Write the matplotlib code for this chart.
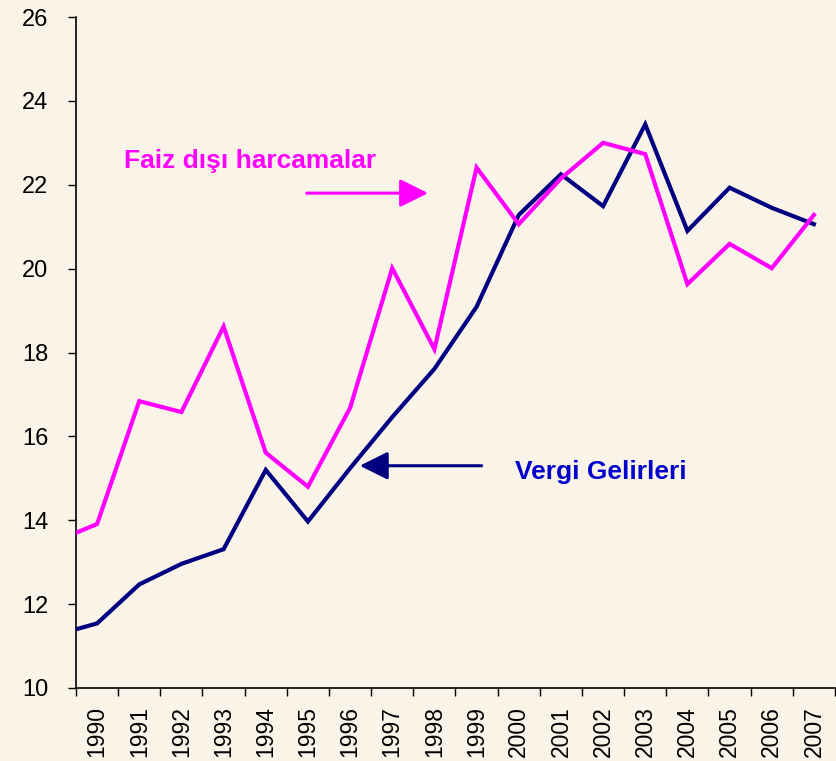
import matplotlib
matplotlib.use("Agg")
import matplotlib.pyplot as plt
from matplotlib.ticker import FixedLocator

# 1989 is only partly visible (clipped at the left edge of the chart)
years = list(range(1989, 2008))
faiz_disi = [13.49, 13.91, 16.84, 16.58, 18.62, 15.61, 14.80, 16.68, 20.01, 18.08,
             22.41, 21.06, 22.15, 23.00, 22.73, 19.63, 20.59, 20.01, 21.28]
vergi = [11.26, 11.54, 12.47, 12.96, 13.31, 15.20, 13.97, 15.24, 16.46, 17.61,
         19.09, 21.28, 22.25, 21.49, 23.44, 20.90, 21.93, 21.45, 21.06]
shown_years = [str(y) for y in range(1990, 2008)]

bg = "#FAF3E8"
plt.rcParams['font.family'] = ['Liberation Sans', 'DejaVu Sans']

fig = plt.figure(figsize=(8.37, 7.61), dpi=100, facecolor=bg)
ax = fig.add_axes([76 / 837, 73 / 761, 759 / 837, 671 / 761])
ax.set_facecolor(bg)

x = [y - 1990 for y in years]
ax.plot(x, vergi, color="#000080", lw=3, solid_joinstyle="miter", zorder=3)
ax.plot(x, faiz_disi, color="#FF00FF", lw=3, solid_joinstyle="miter", zorder=4)

ax.set_xlim(-0.5, len(shown_years) - 0.5)
ax.set_ylim(10, 26)
ax.set_yticks(range(10, 27, 2))

# category boundaries get tick marks, centres get the labels
ax.xaxis.set_major_locator(FixedLocator([i - 0.5 for i in range(len(shown_years) + 1)]))
ax.xaxis.set_minor_locator(FixedLocator(range(len(shown_years))))
ax.set_xticklabels([])
ax.set_xticklabels(shown_years, minor=True, rotation=90, fontsize=16.5)
ax.tick_params(axis="x", which="major", length=6, width=1, direction="out")
ax.tick_params(axis="x", which="minor", length=0, pad=13)
ax.tick_params(axis="y", length=6, width=1, labelsize=17, pad=14)

for s in ["top", "right"]:
    ax.spines[s].set_visible(False)
for s in ["left", "bottom"]:
    ax.spines[s].set_linewidth(1.2)

# annotations
arrow_kw = dict(arrowstyle="-|>,head_length=1.73,head_width=0.86",
                mutation_scale=10, lw=2.2, shrinkA=0, shrinkB=0)
ax.annotate("", xy=(7.85, 21.80), xytext=(4.97, 21.80),
            arrowprops=dict(color="#FF00FF", **arrow_kw), zorder=5)
ax.text(0.64, 22.41, "Faiz dışı harcamalar", color="#FF00FF", fontsize=19,
        fontweight="bold", va="baseline", ha="left")

ax.annotate("", xy=(6.23, 15.30), xytext=(9.12, 15.30),
            arrowprops=dict(color="#000080", **arrow_kw), zorder=5)
ax.text(9.91, 14.98, "Vergi Gelirleri", color="#0000CC", fontsize=19,
        fontweight="bold", va="baseline", ha="left")

fig.savefig("out.png", dpi=100, facecolor=bg)
